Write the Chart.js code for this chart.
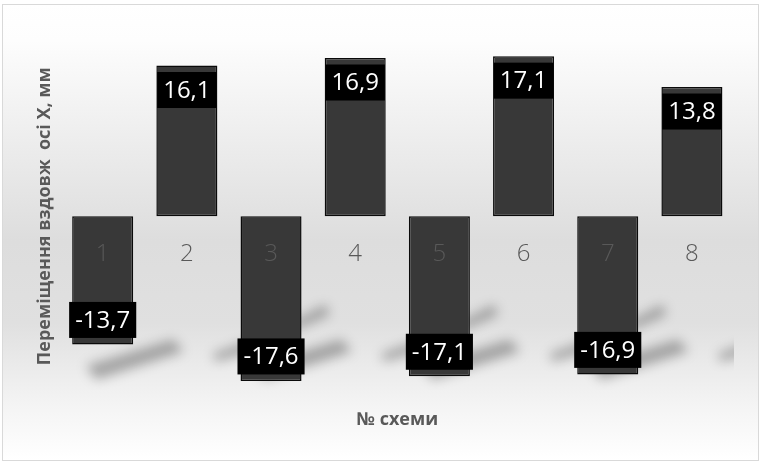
<!DOCTYPE html>
<html><head><meta charset="utf-8">
<script src="https://cdn.jsdelivr.net/npm/chart.js@4.4.0/dist/chart.umd.min.js"></script>
<style>html,body{margin:0;padding:0;background:#fff;overflow:hidden}canvas{display:block}</style>
</head><body>
<canvas id="c" width="760" height="461"></canvas>
<script>
const categories = ['1', '2', '3', '4', '5', '6', '7', '8'];
const displacementX = [-13.7, 16.1, -17.6, 16.9, -17.1, 17.1, -16.9, 13.8];
const yAxisTitle = 'Переміщення вздовж  осі X, мм';
const xAxisTitle = '№ схеми';

const fmt = v => v.toFixed(1).replace('.', ',');

const bgPlugin = {
  id: 'bg',
  beforeDraw(chart) {
    const ctx = chart.ctx;
    ctx.save();
    ctx.fillStyle = '#ffffff';
    ctx.fillRect(0, 0, chart.width, chart.height);
    const g = ctx.createLinearGradient(0, 4, 0, 460);
    g.addColorStop(0, '#ffffff');
    g.addColorStop(0.08, '#fdfdfd');
    g.addColorStop(0.3, '#ededed');
    g.addColorStop(0.52, '#dddddd');
    g.addColorStop(0.7, '#e0e0e0');
    g.addColorStop(0.88, '#f4f4f4');
    g.addColorStop(1, '#ffffff');
    ctx.fillStyle = g;
    ctx.fillRect(2, 4, 756, 456);
    ctx.strokeStyle = '#d9d9d9';
    ctx.lineWidth = 1;
    ctx.strokeRect(2.5, 4.5, 756, 456);
    ctx.restore();
  }
};

const shadowPlugin = {
  id: 'shadows',
  beforeDatasetsDraw(chart) {
    const ctx = chart.ctx;
    const meta = chart.getDatasetMeta(0);
    const ys = chart.scales.y;
    const area = chart.chartArea;
    ctx.save();
    ctx.beginPath();
    ctx.rect(area.left, area.top, area.right - area.left, area.bottom - area.top);
    ctx.clip();
    ctx.filter = 'blur(6px)';
    ctx.fillStyle = 'rgba(0,0,0,0.3)';
    const yFloorTop = ys.getPixelForValue(-13.6);
    const yFloorBot = ys.getPixelForValue(-16.6);
    const yMidTop = ys.getPixelForValue(-9.9);
    const yMidBot = ys.getPixelForValue(-10.7);
    meta.data.forEach((bar, i) => {
      const w = bar.width;
      const L = bar.x - w / 2, R = bar.x + w / 2;
      const v = displacementX[i];
      ctx.beginPath();
      if (v < 0) {
        ctx.moveTo(L + 14, yFloorBot - 6);
        ctx.lineTo(R + 40, yFloorTop - 4);
        ctx.lineTo(R + 50, yFloorTop + 8);
        ctx.lineTo(L + 24, yFloorBot + 8);
        ctx.closePath();
        ctx.fill();
        if (bar.y > yFloorTop + 10) {
          ctx.beginPath();
          ctx.moveTo(R - 10, yMidBot + 6);
          ctx.lineTo(R + 24, yMidTop - 4);
          ctx.lineTo(R + 28, yMidTop + 6);
          ctx.lineTo(R - 8, yMidBot + 14);
          ctx.closePath();
          ctx.fill();
        }
      } else {
        ctx.moveTo(R - 4, yFloorTop + 10);
        ctx.lineTo(R + 30, yFloorTop - 2);
        ctx.lineTo(R + 34, yFloorTop + 8);
        ctx.lineTo(R - 2, yFloorTop + 18);
        ctx.closePath();
        ctx.fill();
      }
    });
    ctx.restore();
  }
};

const labelPlugin = {
  id: 'valueBoxes',
  afterDatasetsDraw(chart) {
    const ctx = chart.ctx;
    const meta = chart.getDatasetMeta(0);
    ctx.save();
    ctx.font = '24px "Open Sans", "Noto Sans", sans-serif';
    ctx.textAlign = 'center';
    ctx.textBaseline = 'middle';
    meta.data.forEach((bar, i) => {
      const v = displacementX[i];
      const txt = fmt(v);
      const tw = ctx.measureText(txt).width;
      const bw = Math.max(tw + 12, bar.width - 2);
      const bh = 36;
      const gap = 6.5;
      let top;
      if (v >= 0) top = bar.y + gap; else top = bar.y - gap - bh;
      ctx.fillStyle = '#000000';
      ctx.fillRect(bar.x - bw / 2, top, bw, bh);
      ctx.fillStyle = '#ffffff';
      ctx.fillText(txt, bar.x, top + bh / 2 + 1);
    });
    ctx.restore();
  }
};

new Chart(document.getElementById('c'), {
  type: 'bar',
  data: {
    labels: categories,
    datasets: [{
      data: displacementX,
      backgroundColor: '#383838',
      borderColor: '#0a0a0a',
      borderWidth: 1.5,
      borderSkipped: false,
      barPercentage: 0.725,
      categoryPercentage: 1
    }]
  },
  options: {
    responsive: false,
    animation: false,
    layout: { padding: { left: 32, right: 26, top: 29, bottom: 20 } },
    plugins: {
      legend: { display: false },
      tooltip: { enabled: false },
      title: {
        display: true,
        position: 'bottom',
        fullSize: false,
        text: xAxisTitle,
        color: '#595959',
        font: { family: '"Open Sans", "Noto Sans", sans-serif', size: 18, weight: 'bold' },
        padding: { top: 6, bottom: 10 }
      }
    },
    scales: {
      x: {
        type: 'category',
        position: { y: 0 },
        grid: { display: false },
        border: { display: false },
        ticks: {
          z: 1,
          color: '#595959',
          padding: 0,
          font: { family: '"Open Sans", "Noto Sans", sans-serif', size: 24, weight: '300', lineHeight: '60px' }
        }
      },
      y: {
        min: -20,
        max: 20,
        grid: { display: false, drawTicks: false },
        border: { display: false },
        ticks: { display: false },
        title: {
          display: true,
          text: yAxisTitle,
          color: '#595959',
          font: { family: '"Open Sans", "Noto Sans", sans-serif', size: 18, weight: 'bold' },
          padding: { top: 2, bottom: 5 }
        }
      }
    }
  },
  plugins: [bgPlugin, shadowPlugin, labelPlugin]
});
</script>
</body></html>
